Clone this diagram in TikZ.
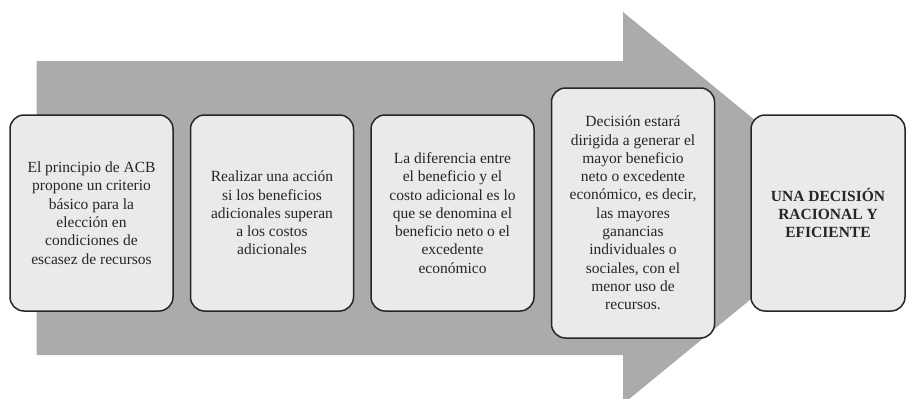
\documentclass[tikz,border=0pt]{standalone}
\usepackage{fontspec}
\setmainfont{Liberation Serif}
\definecolor{arrowgray}{HTML}{ABABAB}
\definecolor{boxgray}{HTML}{EAEAE8}
\definecolor{txtgray}{HTML}{262626}
\begin{document}
\begin{tikzpicture}[x=1pt,y=-1pt,
  box/.style={draw=black!85, line width=1.5pt, rounded corners=14pt, fill=boxgray,
    align=center, text=txtgray, font=\fontsize{15.5}{18.3}\selectfont, inner sep=0pt,
    minimum width=163pt, minimum height=196pt}]
\useasboundingbox (0,0) rectangle (908,399);
% big arrow
\fill[arrowgray] (36.7,61) -- (623,61) -- (623,12) -- (862,208) -- (623,404)
  -- (623,355) -- (36.7,355) -- cycle;
% boxes
\node[box] (b1) at (91.5,213) {El principio de ACB\\propone un criterio\\básico para la\\elección en\\condiciones de\\escasez de recursos};
\node[box] (b2) at (272,213) {Realizar una acción\\si los beneficios\\adicionales superan\\a los costos\\adicionales};
\node[box] (b3) at (452.5,213) {La diferencia entre\\el beneficio y el\\costo adicional es lo\\que se denomina el\\beneficio neto o el\\excedente\\económico};
\node[box, minimum height=250pt] (b4) at (633,213) {Decisión estará\\dirigida a generar el\\mayor beneficio\\neto o excedente\\económico, es decir,\\las mayores\\ganancias\\individuales o\\sociales, con el\\menor uso de\\recursos.};
\node[box, minimum width=154pt, font=\fontsize{15.5}{18.3}\selectfont\bfseries] (b5) at (828,213) {UNA DECISIÓN\\RACIONAL Y\\EFICIENTE};
\end{tikzpicture}
\end{document}
